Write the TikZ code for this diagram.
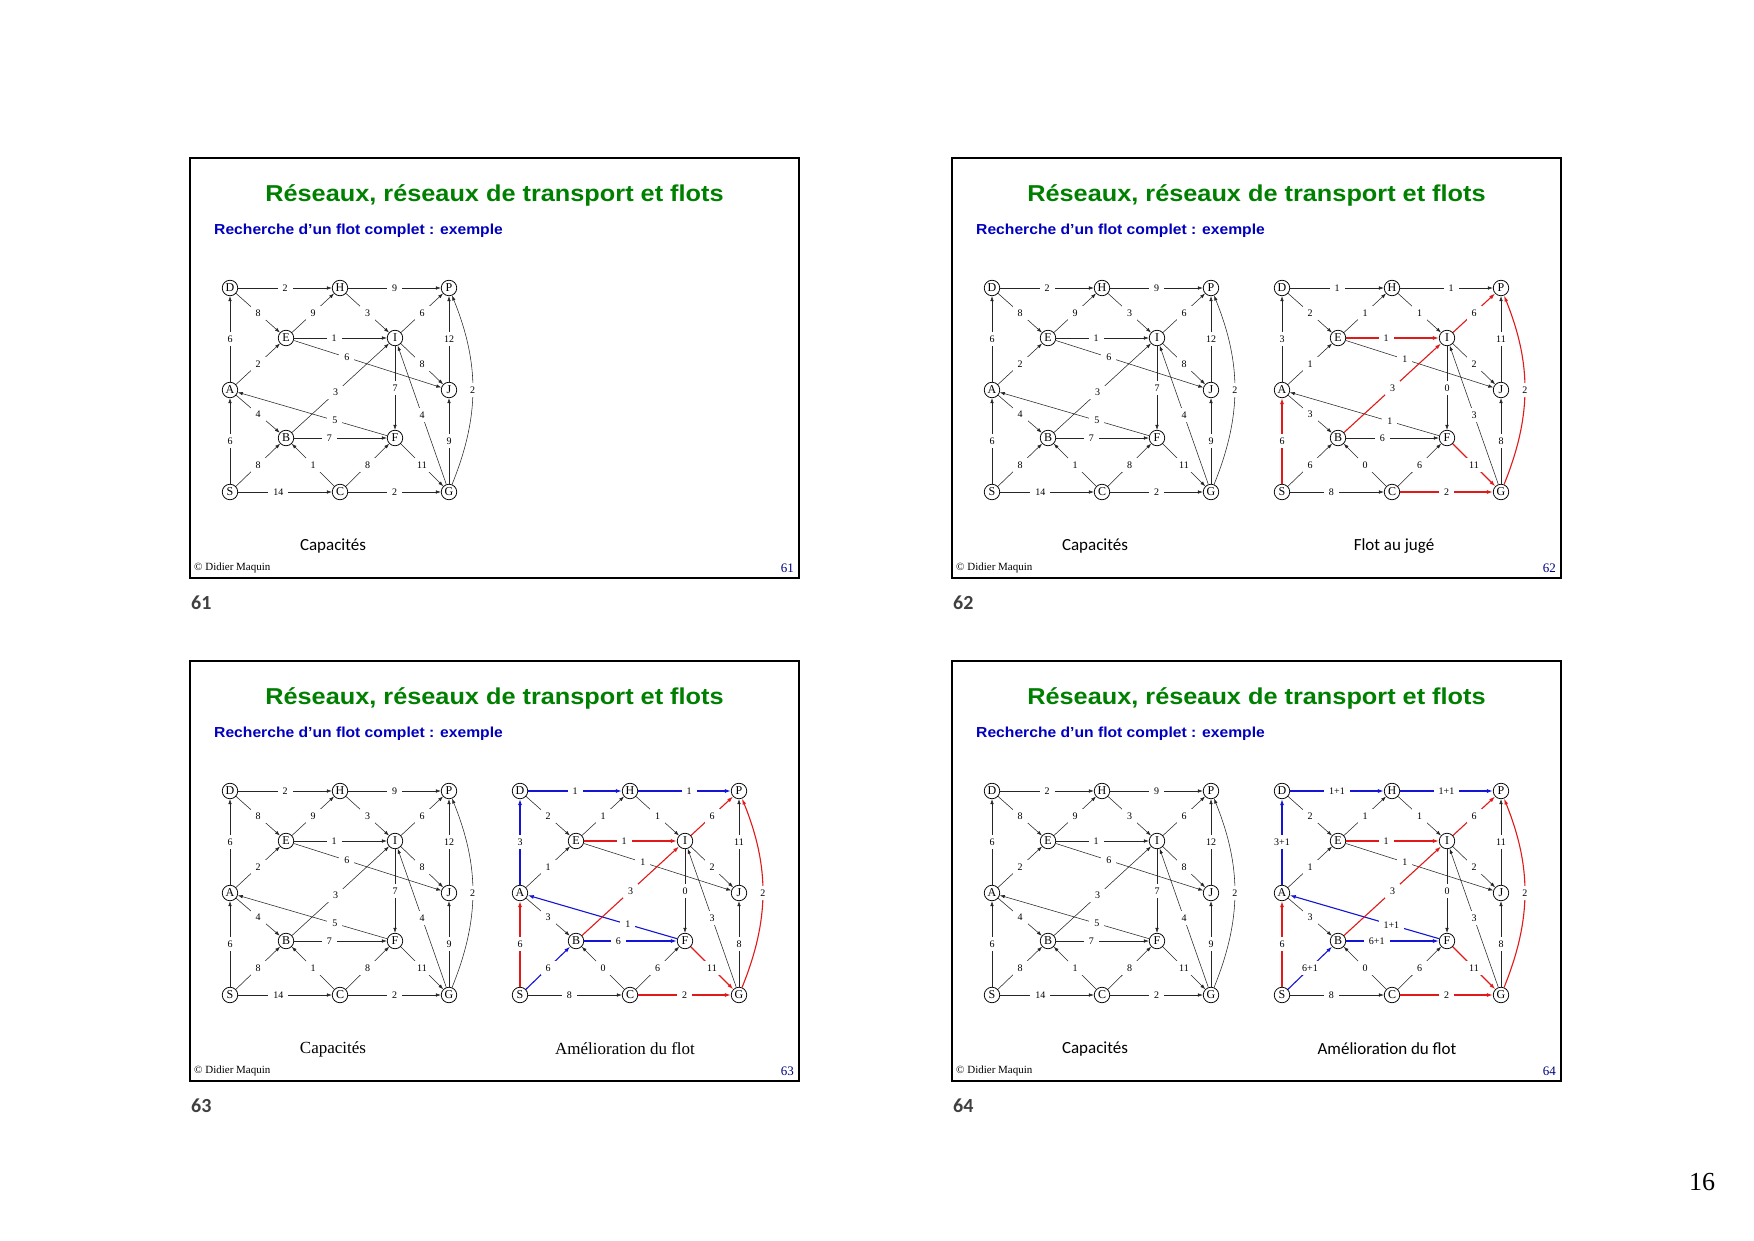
\documentclass[tikz,border=0pt]{standalone}
\usepackage{fontspec}
\setmainfont{Liberation Serif}
\newfontfamily\sansf{Liberation Sans}
\newfontfamily\calf{Carlito}
\usetikzlibrary{arrows.meta}
\definecolor{tgreen}{RGB}{0,128,0}
\definecolor{sblue}{RGB}{0,0,190}
\definecolor{fred}{RGB}{225,25,25}
\definecolor{fblue}{RGB}{20,20,215}
\definecolor{navyn}{RGB}{0,0,128}
\definecolor{numgray}{RGB}{64,64,64}
\tikzset{
 nd/.style={circle,draw,line width=0.75pt,inner sep=0pt,minimum size=15.5pt,font=\fontsize{12}{12}\selectfont},
 lab/.style={fill=white,inner xsep=5pt,inner ysep=3.5pt,font=\fontsize{10}{10}\selectfont},
 ek/.style={draw=black!85,line width=0.55pt,-{Latex[length=5pt,width=3.5pt]}},
 er/.style={draw=fred,line width=1.1pt,-{Latex[length=6pt,width=4pt]}},
 eb/.style={draw=fblue,line width=1.1pt,-{Latex[length=6pt,width=4pt]}},
 capt/.style={font=\calf\fontsize{17}{20}\selectfont},
 capts/.style={font=\fontsize{17}{20}\selectfont},
}
\newcommand\mknodes[3]{%
\begin{scope}[shift={(#1,#2)}]
\node[nd] (#3D) at (0,0) {D};
\node[nd] (#3H) at (110,0) {H};
\node[nd] (#3P) at (219,0) {P};
\node[nd] (#3E) at (56,50) {E};
\node[nd] (#3I) at (165,50) {I};
\node[nd] (#3A) at (0,102) {A};
\node[nd] (#3J) at (219,102) {J};
\node[nd] (#3B) at (56,150) {B};
\node[nd] (#3F) at (165,150) {F};
\node[nd] (#3S) at (0,204) {S};
\node[nd] (#3C) at (110,204) {C};
\node[nd] (#3G) at (219,204) {G};
\end{scope}}
\newcommand\mkedges[2]{\foreach \a/\b/\l/\s/\p in #2 {\draw[\s] (#1\a) -- node[lab,pos=\p]{\l} (#1\b);}}
\def\caplist{D/H/2/ek/.5,H/P/9/ek/.5,D/E/8/ek/.5,E/H/9/ek/.5,H/I/3/ek/.5,E/I/1/ek/.43,I/P/6/ek/.5,E/J/6/ek/.36,I/J/8/ek/.5,J/P/12/ek/.5,A/D/6/ek/.5,A/E/2/ek/.5,A/B/4/ek/.5,F/A/5/ek/.35,B/I/3/ek/.45,I/F/7/ek/.5,G/I/4/ek/.5,B/F/7/ek/.38,S/A/6/ek/.5,S/B/8/ek/.5,C/B/1/ek/.5,C/F/8/ek/.5,F/G/11/ek/.5,S/C/14/ek/.43,C/G/2/ek/.5,G/J/9/ek/.5}
\def\flowlist{D/H/1/ek/.5,H/P/1/ek/.55,D/E/2/ek/.5,E/H/1/ek/.5,H/I/1/ek/.5,E/I/1/er/.43,I/P/6/er/.5,E/J/1/ek/.4,I/J/2/ek/.5,J/P/11/ek/.5,A/D/3/ek/.5,A/E/1/ek/.5,A/B/3/ek/.5,F/A/1/ek/.33,B/I/3/er/.5,I/F/0/ek/.5,G/I/3/ek/.5,B/F/6/ek/.39,S/A/6/er/.5,S/B/6/ek/.5,C/B/0/ek/.5,C/F/6/ek/.5,F/G/11/er/.5,S/C/8/ek/.44,C/G/2/er/.5,G/J/8/ek/.5}
\def\auglist{D/H/1/eb/.5,H/P/1/eb/.55,D/E/2/ek/.5,E/H/1/ek/.5,H/I/1/ek/.5,E/I/1/er/.43,I/P/6/er/.5,E/J/1/ek/.4,I/J/2/ek/.5,J/P/11/ek/.5,A/D/3/eb/.5,A/E/1/ek/.5,A/B/3/ek/.5,F/A/1/eb/.33,B/I/3/er/.5,I/F/0/ek/.5,G/I/3/ek/.5,B/F/6/eb/.37,S/A/6/er/.5,S/B/6/eb/.5,C/B/0/ek/.5,C/F/6/ek/.5,F/G/11/er/.5,S/C/8/ek/.44,C/G/2/er/.5,G/J/8/ek/.5}
\def\augplist{D/H/1+1/eb/.5,H/P/1+1/eb/.5,D/E/2/ek/.5,E/H/1/ek/.5,H/I/1/ek/.5,E/I/1/er/.43,I/P/6/er/.5,E/J/1/ek/.4,I/J/2/ek/.5,J/P/11/ek/.5,A/D/3+1/eb/.5,A/E/1/ek/.5,A/B/3/ek/.5,F/A/1+1/eb/.32,B/I/3/er/.5,I/F/0/ek/.5,G/I/3/ek/.5,B/F/6+1/eb/.33,S/A/6/er/.5,S/B/6+1/eb/.5,C/B/0/ek/.5,C/F/6/ek/.5,F/G/11/er/.5,S/C/8/ek/.44,C/G/2/er/.5,G/J/8/ek/.5}
\newcommand\slidebox[3]{%
\draw[line width=2pt] (#1,#2) rectangle ({#1+609},{#2+420});
\node[font=\sansf\bfseries\fontsize{23}{27}\selectfont,text=tgreen,xscale=1.1] (t#3) at ({#1+304.5},{#2+37.5}) {Réseaux, réseaux de transport et flots};
\node[font=\sansf\bfseries\fontsize{14.5}{17}\selectfont,text=sblue,anchor=west,inner sep=0pt,xscale=1.08] (s#3) at ({#1+24},{#2+73}) {Recherche d’un flot complet : exemple};
\node[font=\fontsize{11}{13}\selectfont,anchor=west,inner sep=0pt] (c#3) at ({#1+4},{#2+410}) {© Didier Maquin};
\node[font=\fontsize{13}{15}\selectfont,text=navyn,anchor=east,inner sep=0pt] (n#3) at ({#1+604},{#2+410}) {#3};
\node[font=\calf\bfseries\fontsize{20}{24}\selectfont,text=numgray,anchor=west,inner sep=0pt] (m#3) at ({#1+1},{#2+445}) {#3};
}
\begin{document}
\begin{tikzpicture}[x=1pt,y=-1pt]
\useasboundingbox (0,0) rectangle (1754,1241);
\fill[white] (0,0) rectangle (1754,1241);
% slide 61
\slidebox{190}{158}{61}
\mknodes{230}{288}{a}
\mkedges{a}{\caplist}
\draw[ek] (aG) to[bend right=22] node[lab]{2} (aP);
\node[capt] (k61) at (333,546) {Capacités};
% slide 62
\slidebox{952}{158}{62}
\mknodes{992}{288}{b}
\mkedges{b}{\caplist}
\draw[ek] (bG) to[bend right=22] node[lab]{2} (bP);
\mknodes{1282}{288}{c}
\mkedges{c}{\flowlist}
\draw[er] (cG) to[bend right=22] node[lab]{2} (cP);
\node[capt] (k62) at (1095,546) {Capacités};
\node[capt] (l62) at (1394,546) {Flot au jugé};
% slide 63
\slidebox{190}{661}{63}
\mknodes{230}{791}{d}
\mkedges{d}{\caplist}
\draw[ek] (dG) to[bend right=22] node[lab]{2} (dP);
\mknodes{520}{791}{e}
\mkedges{e}{\auglist}
\draw[er] (eG) to[bend right=22] node[lab]{2} (eP);
\node[capts] (k63) at (333,1049) {Capacités};
\node[capts] (l63) at (625,1049) {Amélioration du flot};
% slide 64
\slidebox{952}{661}{64}
\mknodes{992}{791}{f}
\mkedges{f}{\caplist}
\draw[ek] (fG) to[bend right=22] node[lab]{2} (fP);
\mknodes{1282}{791}{g}
\mkedges{g}{\augplist}
\draw[er] (gG) to[bend right=22] node[lab]{2} (gP);
\node[capt] (k64) at (1095,1049) {Capacités};
\node[capt] (l64) at (1387,1049) {Amélioration du flot};
% page number
\node[font=\fontsize{26}{30}\selectfont] (pg) at (1702,1182) {16};
\end{tikzpicture}
\end{document}
